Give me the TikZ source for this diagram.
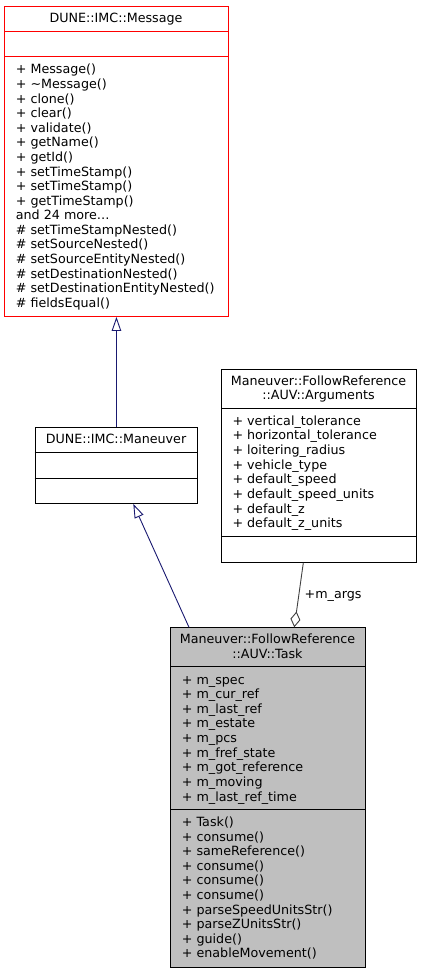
\documentclass[tikz,border=0pt]{standalone}
\usepackage{fontspec}
\setmainfont{DejaVu Sans}
\usetikzlibrary{arrows.meta,calc}
\definecolor{inh}{HTML}{191970}
\definecolor{agg}{HTML}{404040}
\definecolor{taskfill}{HTML}{BFBFBF}
\begin{document}
\begin{tikzpicture}[x=1pt,y=-1pt,
  txt/.style={font=\fontsize{12.7}{14}\selectfont, inner sep=0pt, anchor=base west},
  ttl/.style={font=\fontsize{12.7}{14}\selectfont, inner sep=0pt, anchor=base},
  box/.style={draw=black, line width=0.9pt, inner sep=0pt, anchor=north west, rectangle},
  sep/.style={line width=0.9pt},
  inhline/.style={draw=inh, line width=0.9pt, -{Triangle[open,length=14pt,width=9.5pt,fill=white]}},
  aggline/.style={draw=agg, line width=0.9pt, -{Diamond[open,length=16pt,width=10pt,fill=white]}}]
\useasboundingbox (0,0) rectangle (421,973);
% ---- Message ----
\node[box, draw=red, minimum width=223.4pt, minimum height=310.3pt] (msg) at (4.3,5.7) {};
\draw[sep, red] (4.3,31) -- (227.7,31);
\draw[sep, red] (4.3,56.7) -- (227.7,56.7);
\node[ttl] (msgt) at (116,23) {DUNE::IMC::Message};
\foreach \t [count=\i from 0] in {{+ Message()},{+ \textasciitilde Message()},{+ clone()},{+ clear()},{+ validate()},{+ getName()},{+ getId()},{+ setTimeStamp()},{+ setTimeStamp()},{+ getTimeStamp()},{and 24 more\ldots},{\# setTimeStampNested()},{\# setSourceNested()},{\# setSourceEntityNested()},{\# setDestinationNested()},{\# setDestinationEntityNested()},{\# fieldsEqual()}}
  \node[txt] (msgl\i) at (15.7,74+14.58*\i) {\t};
% ---- Maneuver ----
\node[box, minimum width=162.6pt, minimum height=76pt] (man) at (34.7,427) {};
\draw[sep] (34.7,452.7) -- (197.3,452.7);
\draw[sep] (34.7,478) -- (197.3,478);
\node[ttl] (mant) at (116,443.5) {DUNE::IMC::Maneuver};
% ---- Arguments ----
\node[box, minimum width=195pt, minimum height=193.3pt] (args) at (221,368.7) {};
\draw[sep] (221,408.7) -- (416,408.7);
\draw[sep] (221,536.7) -- (416,536.7);
\node[ttl] (argst1) at (318.5,385.3) {Maneuver::FollowReference};
\node[ttl] (argst2) at (318.5,399.7) {::AUV::Arguments};
\foreach \t [count=\i from 0] in {{+ vertical\_tolerance},{+ horizontal\_tolerance},{+ loitering\_radius},{+ vehicle\_type},{+ default\_speed},{+ default\_speed\_units},{+ default\_z},{+ default\_z\_units}}
  \node[txt] (argsl\i) at (232.3,425+14.67*\i) {\t};
% ---- Task ----
\node[box, fill=taskfill, minimum width=195pt, minimum height=339.4pt] (task) at (170,627.3) {};
\draw[sep] (170,666.7) -- (365,666.7);
\draw[sep] (170,809.3) -- (365,809.3);
\node[ttl] (taskt1) at (267.5,643.5) {Maneuver::FollowReference};
\node[ttl] (taskt2) at (267.5,658.3) {::AUV::Task};
\foreach \t [count=\i from 0] in {{+ m\_spec},{+ m\_cur\_ref},{+ m\_last\_ref},{+ m\_estate},{+ m\_pcs},{+ m\_fref\_state},{+ m\_got\_reference},{+ m\_moving},{+ m\_last\_ref\_time}}
  \node[txt] (taska\i) at (181.7,684+14.66*\i) {\t};
\foreach \t [count=\i from 0] in {{+ Task()},{+ consume()},{+ sameReference()},{+ consume()},{+ consume()},{+ consume()},{+ parseSpeedUnitsStr()},{+ parseZUnitsStr()},{+ guide()},{+ enableMovement()}}
  \node[txt] (taskm\i) at (181.7,826.7+14.56*\i) {\t};
% ---- connectors ----
\draw[inhline] (man.north) -- (msg.south);
\draw[inhline] ([xshift=19pt]task.north west) -- ([xshift=98.6pt]man.south west);
\draw[aggline] ([xshift=82.3pt]args.south west) -- ([xshift=124.3pt]task.north west);
\node[txt] (lbl) at (304.5,598) {+m\_args};
\end{tikzpicture}
\end{document}
